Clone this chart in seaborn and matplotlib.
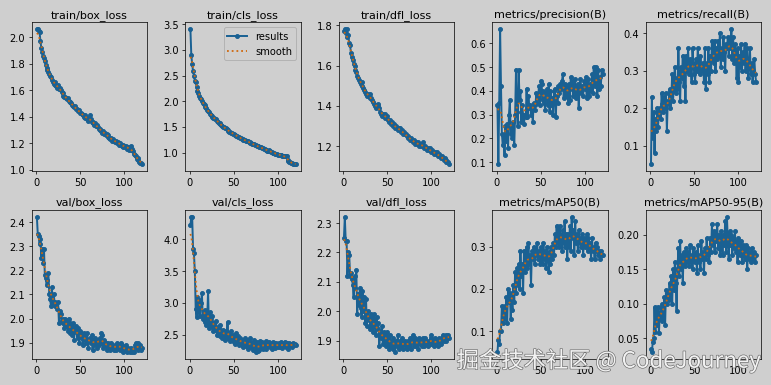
import numpy as np
import matplotlib
matplotlib.use("Agg")
import matplotlib.pyplot as plt
import matplotlib.patheffects as pe
import seaborn as sns

# 各指標の値 (epoch 1-120)
epochs = list(range(1, 121))

titles = ["train/box_loss", "train/cls_loss", "train/dfl_loss",
          "metrics/precision(B)", "metrics/recall(B)",
          "val/box_loss", "val/cls_loss", "val/dfl_loss",
          "metrics/mAP50(B)", "metrics/mAP50-95(B)"]

train_box_loss = [
    2.06, 2.06, 2.05, 2.04, 1.97, 1.92, 1.89, 1.86, 1.84, 1.82,
    1.79, 1.77, 1.75, 1.74, 1.72, 1.71, 1.70, 1.68, 1.66, 1.65,
    1.64, 1.66, 1.63, 1.62, 1.64, 1.61, 1.62, 1.60, 1.59, 1.58,
    1.56, 1.55, 1.55, 1.54, 1.53, 1.54, 1.52, 1.51, 1.51, 1.50,
    1.49, 1.48, 1.47, 1.48, 1.46, 1.46, 1.45, 1.44, 1.45, 1.43,
    1.43, 1.42, 1.41, 1.40, 1.41, 1.39, 1.40, 1.38, 1.37, 1.39,
    1.41, 1.38, 1.36, 1.36, 1.35, 1.34, 1.35, 1.33, 1.34, 1.32,
    1.31, 1.30, 1.31, 1.29, 1.28, 1.29, 1.27, 1.28, 1.26, 1.27,
    1.25, 1.26, 1.24, 1.23, 1.24, 1.22, 1.23, 1.22, 1.21, 1.22,
    1.21, 1.20, 1.21, 1.19, 1.20, 1.19, 1.18, 1.19, 1.17, 1.18,
    1.17, 1.18, 1.16, 1.17, 1.15, 1.16, 1.18, 1.15, 1.16, 1.14,
    1.12, 1.11, 1.10, 1.08, 1.09, 1.07, 1.06, 1.05, 1.05, 1.04]

train_cls_loss = [
    3.40, 2.90, 2.72, 2.58, 2.50, 2.40, 2.38, 2.27, 2.20, 2.15,
    2.10, 2.07, 2.04, 2.00, 1.97, 1.94, 1.92, 1.89, 1.86, 1.83,
    1.81, 1.79, 1.76, 1.73, 1.71, 1.70, 1.68, 1.67, 1.66, 1.65,
    1.62, 1.60, 1.58, 1.57, 1.55, 1.53, 1.52, 1.50, 1.49, 1.48,
    1.47, 1.46, 1.44, 1.43, 1.41, 1.40, 1.39, 1.38, 1.37, 1.37,
    1.35, 1.34, 1.33, 1.32, 1.31, 1.30, 1.29, 1.28, 1.27, 1.26,
    1.25, 1.24, 1.24, 1.23, 1.22, 1.23, 1.21, 1.20, 1.19, 1.18,
    1.17, 1.16, 1.16, 1.15, 1.14, 1.13, 1.12, 1.12, 1.11, 1.10,
    1.10, 1.09, 1.08, 1.07, 1.07, 1.06, 1.05, 1.04, 1.04, 1.05,
    1.03, 1.02, 1.01, 1.00, 1.00, 0.99, 0.98, 0.98, 0.97, 0.96,
    0.96, 0.96, 0.95, 0.95, 0.94, 0.94, 0.93, 0.94, 0.93, 0.93,
    0.86, 0.83, 0.82, 0.81, 0.80, 0.79, 0.78, 0.78, 0.77, 0.77]

train_dfl_loss = [
    1.77, 1.78, 1.76, 1.78, 1.74, 1.75, 1.71, 1.70, 1.66, 1.64,
    1.63, 1.61, 1.60, 1.58, 1.57, 1.55, 1.54, 1.53, 1.52, 1.51,
    1.52, 1.50, 1.49, 1.48, 1.47, 1.46, 1.45, 1.46, 1.45, 1.44,
    1.46, 1.44, 1.43, 1.42, 1.41, 1.40, 1.39, 1.40, 1.41, 1.40,
    1.39, 1.37, 1.36, 1.35, 1.36, 1.35, 1.34, 1.36, 1.35, 1.35,
    1.33, 1.32, 1.33, 1.31, 1.32, 1.31, 1.30, 1.31, 1.29, 1.30,
    1.29, 1.28, 1.29, 1.28, 1.29, 1.27, 1.28, 1.26, 1.27, 1.26,
    1.26, 1.25, 1.24, 1.25, 1.24, 1.23, 1.24, 1.23, 1.22, 1.23,
    1.22, 1.21, 1.22, 1.21, 1.22, 1.20, 1.21, 1.20, 1.21, 1.20,
    1.22, 1.19, 1.20, 1.19, 1.18, 1.19, 1.18, 1.19, 1.18, 1.17,
    1.18, 1.17, 1.16, 1.17, 1.16, 1.17, 1.16, 1.15, 1.16, 1.15,
    1.14, 1.15, 1.14, 1.13, 1.14, 1.13, 1.12, 1.12, 1.12, 1.11]

precision = [
    0.34, 0.09, 0.35, 0.66, 0.42, 0.22, 0.17, 0.21, 0.13, 0.25,
    0.19, 0.26, 0.16, 0.30, 0.36, 0.22, 0.25, 0.20, 0.27, 0.17,
    0.30, 0.49, 0.31, 0.25, 0.49, 0.36, 0.40, 0.27, 0.34, 0.30,
    0.26, 0.30, 0.29, 0.41, 0.29, 0.38, 0.33, 0.34, 0.30, 0.33,
    0.27, 0.35, 0.32, 0.34, 0.39, 0.35, 0.37, 0.42, 0.34, 0.44,
    0.43, 0.36, 0.40, 0.35, 0.32, 0.39, 0.41, 0.34, 0.43, 0.31,
    0.40, 0.34, 0.37, 0.30, 0.40, 0.41, 0.29, 0.38, 0.35, 0.42,
    0.39, 0.43, 0.41, 0.44, 0.47, 0.37, 0.43, 0.40, 0.38, 0.42,
    0.35, 0.43, 0.36, 0.46, 0.41, 0.44, 0.38, 0.42, 0.45, 0.37,
    0.40, 0.43, 0.33, 0.41, 0.45, 0.39, 0.42, 0.38, 0.44, 0.41,
    0.46, 0.37, 0.42, 0.45, 0.38, 0.43, 0.40, 0.47, 0.39, 0.50,
    0.42, 0.44, 0.50, 0.38, 0.49, 0.41, 0.46, 0.42, 0.49, 0.47]

recall = [
    0.05, 0.23, 0.12, 0.19, 0.08, 0.17, 0.14, 0.20, 0.15, 0.19,
    0.20, 0.17, 0.24, 0.21, 0.19, 0.23, 0.20, 0.24, 0.14, 0.22,
    0.21, 0.25, 0.20, 0.23, 0.29, 0.22, 0.27, 0.31, 0.24, 0.28,
    0.25, 0.36, 0.27, 0.22, 0.31, 0.28, 0.34, 0.26, 0.33, 0.22,
    0.34, 0.30, 0.36, 0.29, 0.33, 0.31, 0.27, 0.36, 0.32, 0.29,
    0.27, 0.33, 0.30, 0.36, 0.31, 0.29, 0.34, 0.30, 0.31, 0.32,
    0.27, 0.36, 0.25, 0.32, 0.29, 0.36, 0.27, 0.34, 0.30, 0.38,
    0.34, 0.32, 0.38, 0.30, 0.36, 0.33, 0.38, 0.34, 0.40, 0.31,
    0.36, 0.33, 0.39, 0.35, 0.30, 0.37, 0.36, 0.39, 0.34, 0.38,
    0.36, 0.41, 0.33, 0.39, 0.32, 0.37, 0.35, 0.28, 0.36, 0.27,
    0.34, 0.31, 0.37, 0.30, 0.35, 0.32, 0.37, 0.30, 0.33, 0.36,
    0.28, 0.31, 0.36, 0.29, 0.32, 0.27, 0.30, 0.33, 0.29, 0.27]

val_box_loss = [
    2.42, 2.35, 2.34, 2.31, 2.33, 2.25, 2.29, 2.23, 2.29, 2.18,
    2.17, 2.14, 2.16, 2.19, 2.10, 2.08, 2.05, 2.13, 2.06, 2.10,
    2.07, 2.05, 2.06, 2.04, 2.07, 1.98, 2.03, 2.02, 1.99, 2.00,
    1.98, 1.96, 2.00, 1.97, 1.99, 1.95, 2.00, 1.94, 1.98, 1.96,
    1.93, 1.98, 1.91, 1.96, 1.97, 1.94, 1.92, 1.96, 1.90, 1.95,
    1.94, 1.92, 1.89, 1.94, 1.91, 1.93, 1.90, 1.94, 1.88, 1.91,
    1.92, 1.90, 1.93, 1.87, 1.91, 1.89, 1.92, 1.90, 1.88, 1.91,
    1.89, 1.92, 1.90, 1.94, 1.93, 1.88, 1.91, 1.89, 1.90, 1.87,
    1.90, 1.88, 1.89, 1.87, 1.90, 1.89, 1.88, 1.87, 1.89, 1.88,
    1.87, 1.90, 1.89, 1.88, 1.87, 1.90, 1.89, 1.88, 1.86, 1.88,
    1.87, 1.89, 1.86, 1.88, 1.87, 1.86, 1.88, 1.87, 1.86, 1.87,
    1.86, 1.89, 1.90, 1.88, 1.87, 1.90, 1.88, 1.89, 1.87, 1.88]

val_cls_loss = [
    4.22, 4.35, 4.35, 3.85, 3.78, 3.50, 2.90, 2.78, 3.10, 2.85,
    3.05, 2.80, 3.00, 3.15, 2.75, 2.85, 2.70, 2.88, 2.65, 2.75,
    3.18, 2.60, 2.85, 2.70, 2.62, 2.80, 2.55, 2.68, 2.58, 2.72,
    2.50, 2.62, 2.55, 2.48, 2.65, 2.52, 2.45, 2.58, 2.50, 2.42,
    2.55, 2.48, 2.70, 2.45, 2.52, 2.40, 2.55, 2.42, 2.50, 2.38,
    2.45, 2.35, 2.52, 2.40, 2.48, 2.33, 2.45, 2.38, 2.42, 2.30,
    2.40, 2.35, 2.45, 2.32, 2.42, 2.28, 2.38, 2.33, 2.45, 2.30,
    2.36, 2.25, 2.42, 2.30, 2.22, 2.38, 2.24, 2.32, 2.26, 2.40,
    2.30, 2.38, 2.27, 2.35, 2.30, 2.40, 2.28, 2.36, 2.32, 2.38,
    2.30, 2.35, 2.28, 2.38, 2.32, 2.36, 2.29, 2.37, 2.33, 2.30,
    2.36, 2.31, 2.38, 2.33, 2.29, 2.35, 2.32, 2.39, 2.30, 2.36,
    2.32, 2.28, 2.37, 2.33, 2.35, 2.30, 2.36, 2.34, 2.35, 2.34]

val_dfl_loss = [
    2.25, 2.32, 2.24, 2.24, 2.12, 2.20, 2.19, 2.12, 2.13, 2.11,
    2.09, 2.05, 2.12, 2.08, 2.14, 1.99, 2.06, 2.02, 2.08, 2.01,
    1.98, 2.07, 2.00, 2.05, 1.96, 2.04, 1.95, 2.00, 1.97, 1.98,
    1.94, 1.99, 1.96, 1.93, 1.99, 1.95, 1.92, 1.98, 1.94, 1.96,
    1.88, 1.93, 1.91, 1.95, 1.89, 1.93, 1.90, 1.92, 1.88, 1.93,
    1.91, 1.87, 1.92, 1.88, 1.90, 1.87, 1.91, 1.89, 1.86, 1.90,
    1.88, 1.92, 1.87, 1.90, 1.89, 1.88, 1.91, 1.87, 1.89, 1.90,
    1.88, 1.87, 1.90, 1.89, 1.88, 1.91, 1.87, 1.90, 1.92, 1.88,
    1.89, 1.91, 1.88, 1.90, 1.87, 1.91, 1.89, 1.90, 1.88, 1.91,
    1.89, 1.88, 1.91, 1.90, 1.89, 1.88, 1.90, 1.89, 1.91, 1.92,
    1.89, 1.90, 1.88, 1.91, 1.89, 1.90, 1.88, 1.89, 1.91, 1.90,
    1.89, 1.91, 1.92, 1.90, 1.91, 1.92, 1.90, 1.91, 1.92, 1.91]

map50 = [
    0.05, 0.08, 0.07, 0.10, 0.10, 0.16, 0.12, 0.15, 0.16, 0.13,
    0.18, 0.12, 0.20, 0.17, 0.19, 0.13, 0.18, 0.15, 0.21, 0.17,
    0.24, 0.19, 0.25, 0.21, 0.26, 0.20, 0.29, 0.23, 0.26, 0.19,
    0.29, 0.24, 0.27, 0.30, 0.25, 0.31, 0.26, 0.28, 0.21, 0.29,
    0.27, 0.30, 0.26, 0.29, 0.28, 0.31, 0.27, 0.29, 0.26, 0.30,
    0.28, 0.26, 0.31, 0.27, 0.29, 0.25, 0.30, 0.28, 0.24, 0.29,
    0.26, 0.30, 0.27, 0.31, 0.28, 0.33, 0.30, 0.35, 0.31, 0.34,
    0.30, 0.35, 0.32, 0.29, 0.34, 0.31, 0.36, 0.30, 0.33, 0.27,
    0.33, 0.30, 0.35, 0.29, 0.37, 0.32, 0.34, 0.28, 0.36, 0.31,
    0.33, 0.29, 0.34, 0.31, 0.32, 0.30, 0.33, 0.28, 0.32, 0.30,
    0.31, 0.33, 0.29, 0.32, 0.30, 0.31, 0.27, 0.32, 0.29, 0.30,
    0.27, 0.31, 0.29, 0.30, 0.28, 0.29, 0.27, 0.29, 0.28, 0.28]

map50_95 = [
    0.035, 0.030, 0.045, 0.050, 0.095, 0.060, 0.090, 0.070, 0.095, 0.058,
    0.085, 0.095, 0.075, 0.100, 0.080, 0.110, 0.070, 0.120, 0.100, 0.115,
    0.105, 0.130, 0.110, 0.140, 0.100, 0.150, 0.120, 0.160, 0.130, 0.090,
    0.150, 0.180, 0.140, 0.190, 0.150, 0.170, 0.130, 0.175, 0.160, 0.155,
    0.180, 0.160, 0.175, 0.155, 0.185, 0.160, 0.170, 0.150, 0.180, 0.165,
    0.160, 0.175, 0.145, 0.185, 0.160, 0.170, 0.150, 0.190, 0.165, 0.175,
    0.145, 0.180, 0.165, 0.195, 0.170, 0.180, 0.160, 0.195, 0.175, 0.215,
    0.185, 0.205, 0.175, 0.200, 0.190, 0.215, 0.180, 0.200, 0.170, 0.205,
    0.190, 0.170, 0.200, 0.185, 0.220, 0.175, 0.225, 0.190, 0.165, 0.205,
    0.185, 0.200, 0.170, 0.195, 0.180, 0.205, 0.175, 0.190, 0.160, 0.195,
    0.180, 0.170, 0.190, 0.160, 0.185, 0.175, 0.165, 0.185, 0.170, 0.150,
    0.180, 0.165, 0.175, 0.160, 0.180, 0.170, 0.165, 0.175, 0.160, 0.170]

series = [train_box_loss, train_cls_loss, train_dfl_loss, precision, recall,
          val_box_loss, val_cls_loss, val_dfl_loss, map50, map50_95]


# ガウシアン平滑化 (sigma=3, reflect)
def smooth(y, sigma=3.0):
    r = int(4.0 * sigma + 0.5)
    k = np.exp(-0.5 * (np.arange(-r, r + 1) / sigma) ** 2)
    k /= k.sum()
    yp = np.pad(np.asarray(y, dtype=float), r, mode="symmetric")
    return np.convolve(yp, k, mode="valid")


bg = "#cfcfcf"
line_color = "#1a6193"
smooth_color = "#cf670b"

plt.rcParams["xtick.labelsize"] = 11
plt.rcParams["ytick.labelsize"] = 11
plt.rcParams["legend.fontsize"] = 11

fig, axes = plt.subplots(2, 5, figsize=(12, 6), dpi=771 / 12, facecolor=bg)
axes = axes.ravel()

for ax, title, y in zip(axes, titles, series):
    ax.set_facecolor(bg)
    sns.lineplot(x=epochs, y=y, ax=ax, marker=".", markersize=9, linewidth=2.2,
                 color=line_color, markeredgecolor=line_color, markeredgewidth=1,
                 label="results", legend=False)
    sns.lineplot(x=epochs, y=smooth(y), ax=ax, linestyle=":", linewidth=2,
                 color=smooth_color, label="smooth", legend=False)
    ax.set_title(title, fontsize=12.5)
    ax.set_xlabel("")
    ax.set_ylabel("")

leg = axes[1].legend(facecolor=bg, edgecolor="#a8a8a8")

plt.tight_layout()

# ウォーターマーク
fig.text(0.986, 0.045, "掘金技术社区 @ CodeJourney", ha="right", va="baseline",
         fontsize=25, color="#f2f2f2", family=["Noto Sans CJK SC", "DejaVu Sans"],
         path_effects=[pe.withStroke(linewidth=1.5, foreground="#707070")])

fig.savefig("out.png", dpi=771 / 12, facecolor=bg)
